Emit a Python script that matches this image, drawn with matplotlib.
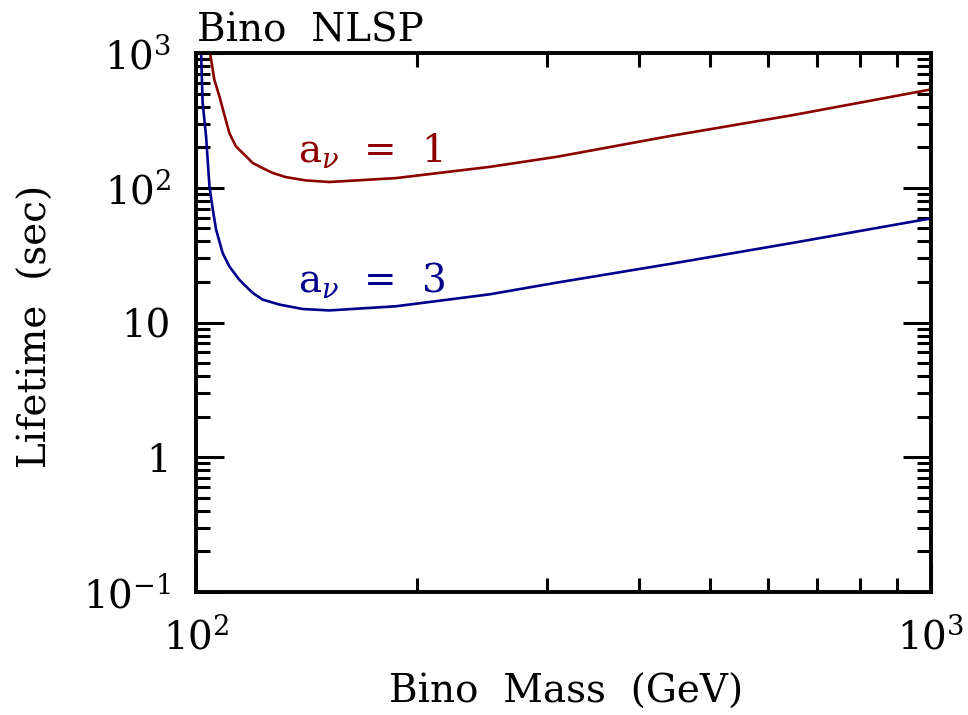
import matplotlib
matplotlib.use("Agg")
import matplotlib.pyplot as plt
from matplotlib.ticker import FixedLocator, FixedFormatter, NullFormatter

plt.rcParams["font.family"] = ["DejaVu Serif"]
plt.rcParams["mathtext.fontset"] = "dejavuserif"

# bino NLSP lifetime vs mass, two values of a_nu
mass_a1 = [104.5, 105.9, 107.6, 111, 113.3, 117, 119.4, 123.2, 127.1, 132.5, 141, 151.8,
           187, 251, 310, 441, 650, 1000]
life_a1 = [1000, 634, 477, 255, 203, 171, 153, 140, 129, 120, 113.5, 110.4,
           118, 143, 170, 242, 347, 537]

mass_a3 = [101.6, 102.1, 103.2, 104.3, 105.4, 106.5, 108.7, 111, 114.5, 119.4, 123.2, 129.8,
           139.7, 151.8, 187, 251, 310, 441, 650, 1000]
life_a3 = [1000, 426, 241, 102.5, 68.8, 48.9, 32.8, 26.1, 20.8, 16.6, 14.8, 13.6,
           12.6, 12.3, 13.2, 16.2, 19.8, 27.2, 39.1, 59.3]

x_major = [100, 1000]
x_major_labels = ["$10^2$", "$10^3$"]
x_minor = [200, 300, 400, 500, 600, 700, 800, 900]
y_major = [0.1, 1, 10, 100, 1000]
y_major_labels = ["$10^{-1}$", "1", "10", "$10^2$", "$10^3$"]
y_minor = [m * 10.0 ** e for e in (-1, 0, 1, 2) for m in range(2, 10)]

RED = "#8c0000"
BLUE = "#00008c"

fig = plt.figure(figsize=(9.68, 7.15), dpi=100)
ax = fig.add_axes([0.2025, 0.172, 0.7593, 0.7538])

ax.plot(mass_a1, life_a1, color=RED, lw=1.9)
ax.plot(mass_a3, life_a3, color=BLUE, lw=1.9)

ax.set_xscale("log")
ax.set_yscale("log")
ax.set_xlim(100, 1000)
ax.set_ylim(0.1, 1000)

ax.xaxis.set_major_locator(FixedLocator(x_major))
ax.xaxis.set_major_formatter(FixedFormatter(x_major_labels))
ax.xaxis.set_minor_locator(FixedLocator(x_minor))
ax.xaxis.set_minor_formatter(NullFormatter())
ax.yaxis.set_major_locator(FixedLocator(y_major))
ax.yaxis.set_major_formatter(FixedFormatter(y_major_labels))
ax.yaxis.set_minor_locator(FixedLocator(y_minor))
ax.yaxis.set_minor_formatter(NullFormatter())

ax.tick_params(which="both", direction="in", top=True, right=True, width=2.2,
               labelsize=28, pad=18)
ax.tick_params(which="major", length=20)
ax.tick_params(which="minor", length=10)
for side in ax.spines.values():
    side.set_linewidth(2.8)

ax.text(137.7, 155, r"a$_{\nu}$  =  1", color=RED, fontsize=28, va="baseline")
ax.text(137.7, 16.8, r"a$_{\nu}$  =  3", color=BLUE, fontsize=28, va="baseline")

fig.text(197 / 968, 1 - 42 / 715, "Bino  NLSP", fontsize=28, ha="left", va="baseline")
fig.text(566 / 968, 1 - 703 / 715, "Bino  Mass  (GeV)", fontsize=28, ha="center",
         va="baseline")
fig.text(36 / 968, 1 - 326 / 715, "Lifetime  (sec)", fontsize=28, ha="center", va="center",
         rotation=90)

fig.savefig("out.png", dpi=100)
